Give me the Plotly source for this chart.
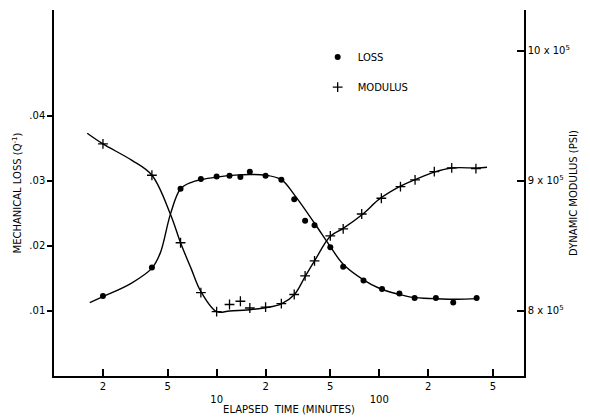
import plotly.graph_objects as go

# ---- data ----
loss_t = [2, 4, 6, 8, 10, 12, 14, 16, 20, 25, 30, 35, 40, 50, 60, 80, 104, 133, 165, 223, 285, 397]
loss_v = [0.0123, 0.0167, 0.0288, 0.0303, 0.0307, 0.0308, 0.0306, 0.0314, 0.0308, 0.0302,
          0.0272, 0.0239, 0.0232, 0.0198, 0.0168, 0.0147, 0.0134, 0.0127, 0.0120, 0.0120,
          0.0113, 0.0120]

mod_t = [2, 4, 6, 8, 10, 12, 14, 16, 20, 25, 30, 35, 40, 50, 60, 78, 103, 135, 166, 218, 279, 393]
mod_v = [9.285e5, 9.044e5, 8.525e5, 8.141e5, 7.995e5, 8.05e5, 8.075e5, 8.023e5, 8.03e5, 8.056e5,
         8.127e5, 8.27e5, 8.385e5, 8.577e5, 8.631e5, 8.746e5, 8.867e5, 8.957e5, 9.008e5,
         9.072e5, 9.10e5, 9.095e5]

loss_fit_t = [1.66, 2, 3, 4, 4.5, 5.2, 6, 7, 8, 10, 13, 16, 20, 25, 30, 40, 50, 60, 80,
              100, 130, 160, 220, 300, 400]
loss_fit_v = [0.0113, 0.0122, 0.0143, 0.0166, 0.0189, 0.0249, 0.0288, 0.0298, 0.0302, 0.0306,
              0.0309, 0.0310, 0.0309, 0.0302, 0.0279, 0.0235, 0.0199, 0.0172, 0.0148, 0.0135,
              0.0126, 0.0121, 0.0119, 0.0118, 0.0119]

mod_fit_t = [1.6, 2, 3, 4, 5.2, 6, 7, 8, 10, 12, 16, 20, 25, 30, 35, 40, 50, 60, 80, 100,
             135, 166, 220, 280, 400, 460]
mod_fit_v = [9.367e5, 9.285e5, 9.16e5, 9.044e5, 8.744e5, 8.525e5, 8.32e5, 8.15e5, 7.995e5,
             8.0e5, 8.01e5, 8.025e5, 8.055e5, 8.125e5, 8.265e5, 8.385e5, 8.575e5, 8.635e5,
             8.75e5, 8.86e5, 8.96e5, 9.01e5, 9.07e5, 9.1e5, 9.1e5, 9.105e5]

x_tickvals = [2, 5, 10, 20, 50, 100, 200, 500]
x_ticktext = ["2", "5", "<br>10", "2", "5", "<br>100", "2", "5"]
y_tickvals = [0.01, 0.02, 0.03, 0.04]
y_ticktext = [".01", ".02", ".03", ".04"]
y2_tickvals = [8e5, 9e5, 10e5]
y2_ticktext = ["8 x 10<sup>5</sup>", "9 x 10<sup>5</sup>", "10 x 10<sup>5</sup>"]

loss_top = 0.0563
mod_range = [7.5e5, 7.5e5 + loss_top * 5e6]

FONT = "DejaVu Sans"
fig = go.Figure()

fig.add_trace(go.Scatter(x=loss_fit_t, y=loss_fit_v, mode="lines",
                         line=dict(color="black", width=1.4, shape="spline", smoothing=1.0),
                         showlegend=False, hoverinfo="skip"))
fig.add_trace(go.Scatter(x=mod_fit_t, y=mod_fit_v, mode="lines", yaxis="y2",
                         line=dict(color="black", width=1.4, shape="spline", smoothing=1.0),
                         showlegend=False, hoverinfo="skip"))
fig.add_trace(go.Scatter(x=loss_t, y=loss_v, mode="markers", name="LOSS", legendgroup="a",
                         marker=dict(symbol="circle", size=6, color="black")))
fig.add_trace(go.Scatter(x=mod_t, y=mod_v, mode="markers", name="MODULUS", yaxis="y2", legendgroup="b",
                         marker=dict(symbol="cross-thin", size=7, color="black",
                                     line=dict(color="black", width=1.3))))

fig.update_layout(
    width=582, height=411,
    margin=dict(l=46, r=66, t=2, b=43),
    paper_bgcolor="white", plot_bgcolor="white",
    font=dict(family=FONT, size=10, color="black"),
    xaxis=dict(type="log", range=[0, 2.89], showline=True, linecolor="black", linewidth=1.5,
               showgrid=False, zeroline=False, ticks="inside", ticklen=7, tickwidth=1.5,
               tickcolor="black", tickvals=x_tickvals, ticktext=x_ticktext,
               tickfont=dict(size=10), automargin=False,
               title=dict(text="ELAPSED  TIME (MINUTES)", font=dict(size=10), standoff=2)),
    yaxis=dict(range=[0, loss_top], showline=True, linecolor="black", linewidth=1.5,
               showgrid=False, zeroline=False, ticks="outside", ticklen=5, tickwidth=1.5,
               tickcolor="black", tickvals=y_tickvals, ticktext=y_ticktext,
               tickfont=dict(size=10), automargin=False,
               title=dict(text="MECHANICAL LOSS (Q<sup>-1</sup>)", font=dict(size=10), standoff=6)),
    yaxis2=dict(range=mod_range, overlaying="y", side="right", showline=True, linecolor="black",
                linewidth=1.5, showgrid=False, zeroline=False, ticks="inside", ticklen=7,
                tickwidth=1.5, tickcolor="black", tickvals=y2_tickvals, ticktext=y2_ticktext,
                tickfont=dict(size=10), automargin=False,
                title=dict(text="DYNAMIC MODULUS (PSI)", font=dict(size=10), standoff=1)),
    legend=dict(x=0.561, y=0.911, xanchor="left", yanchor="top", bgcolor="rgba(0,0,0,0)",
                font=dict(size=10), tracegroupgap=11, itemwidth=30),
)

fig.write_html("out.html")
